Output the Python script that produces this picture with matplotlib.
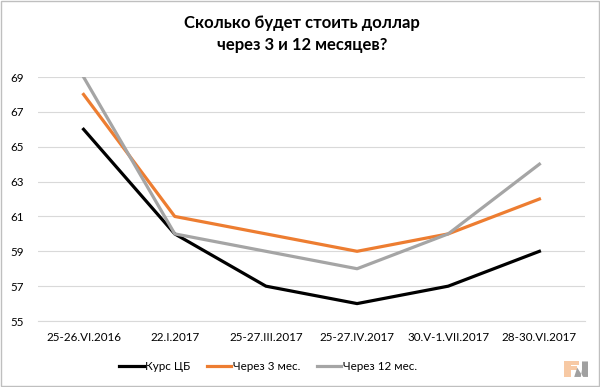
import matplotlib
matplotlib.use("Agg")
from matplotlib import pyplot as plt
from matplotlib.patches import Rectangle, Polygon

plt.rcParams['font.family'] = ['Lato', 'DejaVu Sans']

dates = ['25-26.VI.2016', '22.I.2017', '25-27.III.2017', '25-27.IV.2017',
         '30.V-1.VII.2017', '28-30.VI.2017']
kurs_cb = [66, 60, 57, 56, 57, 59]
cherez_3 = [68, 61, 60, 59, 60, 62]
cherez_12 = [69, 60, 59, 58, 60, 64]
yticks = [55, 57, 59, 61, 63, 65, 67, 69]

fig = plt.figure(figsize=(6, 3.87), dpi=100)
ax = fig.add_axes([0.0633, 0.1705, 0.9117, 0.6305])

x = range(len(dates))
ax.plot(x, kurs_cb, color='black', lw=2.3, label='Курс ЦБ', zorder=3)
ax.plot(x, cherez_3, color='#ED7D31', lw=2.3, label='Через 3 мес.', zorder=3)
ax.plot(x, cherez_12, color='#A5A5A5', lw=2.3, label='Через 12 мес.', zorder=3)

ax.set_xlim(-0.5, len(dates) - 0.5)
ax.set_ylim(55, 69)
ax.set_yticks(yticks)
ax.set_xticks(list(x))
ax.set_xticklabels(dates, fontsize=8.4)
ax.tick_params(axis='y', labelsize=8.4, length=0, pad=10)
ax.tick_params(axis='x', length=0, pad=8)
ax.grid(axis='y', color='#D9D9D9', lw=0.8)
for s in ['top', 'right', 'left']:
    ax.spines[s].set_visible(False)
ax.spines['bottom'].set_color('#D9D9D9')

fig.text(0.503, 0.962, 'Сколько будет стоить доллар\nчерез 3 и 12 месяцев?',
         ha='center', va='top', fontsize=12, fontweight='bold', linespacing=1.45)

fig.legend(loc='center', bbox_to_anchor=(0.447, 0.052), ncol=3, frameon=False,
           fontsize=8.4, handlelength=2.1, columnspacing=1.4, handletextpad=0.15)

# рамка
fig.patches.append(Rectangle((0.002, 0.003), 0.996, 0.994, transform=fig.transFigure,
                             fill=False, edgecolor='#BFBFBF', lw=1))

# логотип FV
fig.patches.append(Polygon([(0.940, 0.026), (0.952, 0.026), (0.952, 0.045), (0.962, 0.045),
                            (0.962, 0.055), (0.952, 0.055), (0.952, 0.058), (0.965, 0.058),
                            (0.965, 0.066), (0.940, 0.066)], closed=True,
                           transform=fig.transFigure, facecolor='#F7C9A4', edgecolor='none'))
fig.patches.append(Polygon([(0.957, 0.026), (0.968, 0.026), (0.970, 0.045), (0.970, 0.066),
                            (0.980, 0.066), (0.980, 0.026), (0.972, 0.026), (0.962, 0.050)],
                           closed=True, transform=fig.transFigure,
                           facecolor='#A0A0A0', edgecolor='none'))

fig.savefig('out.png', dpi=100)
